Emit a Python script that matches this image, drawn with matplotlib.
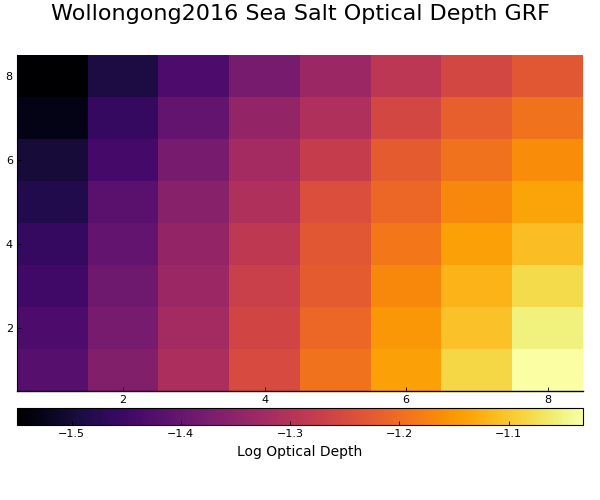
import matplotlib

matplotlib.use("Agg")
import matplotlib.pyplot as plt
import numpy as np

# Ejes del grid (centro de cada celda)
x_vals = [1, 2, 3, 4, 5, 6, 7, 8]
y_vals = [1, 2, 3, 4, 5, 6, 7, 8]

# Log optical depth, una lista por fila (y=1 abajo ... y=8 arriba)
fila_y1 = [-1.420, -1.364, -1.312, -1.250, -1.193, -1.141, -1.084, -1.032]
fila_y2 = [-1.431, -1.379, -1.322, -1.260, -1.208, -1.151, -1.105, -1.053]
fila_y3 = [-1.446, -1.389, -1.332, -1.270, -1.224, -1.167, -1.120, -1.079]
fila_y4 = [-1.462, -1.405, -1.343, -1.286, -1.229, -1.187, -1.141, -1.110]
fila_y5 = [-1.483, -1.415, -1.358, -1.307, -1.244, -1.208, -1.167, -1.136]
fila_y6 = [-1.498, -1.441, -1.379, -1.322, -1.275, -1.224, -1.193, -1.162]
fila_y7 = [-1.529, -1.462, -1.405, -1.343, -1.307, -1.255, -1.218, -1.193]
fila_y8 = [-1.550, -1.490, -1.431, -1.379, -1.332, -1.291, -1.255, -1.229]

x_ticks = [2, 4, 6, 8]
y_ticks = [2, 4, 6, 8]
cbar_ticks = [-1.5, -1.4, -1.3, -1.2, -1.1]

matriz = np.array([fila_y1, fila_y2, fila_y3, fila_y4,
                   fila_y5, fila_y6, fila_y7, fila_y8])

fig = plt.figure(figsize=(6, 5), dpi=100)
ax = fig.add_axes([17 / 600, 1 - 391 / 500, 566 / 600, 336 / 500])
cax = fig.add_axes([17 / 600, 1 - 425 / 500, 566 / 600, 17 / 500])

dx = (x_vals[1] - x_vals[0]) / 2
dy = (y_vals[1] - y_vals[0]) / 2
img = ax.imshow(
    matriz, cmap="inferno", origin="lower", aspect="auto",
    extent=(x_vals[0] - dx, x_vals[-1] + dx, y_vals[0] - dy, y_vals[-1] + dy),
    vmin=matriz.min(), vmax=matriz.max(), interpolation="nearest",
)
ax.set_xticks(x_ticks)
ax.set_yticks(y_ticks)
ax.tick_params(direction="in", length=3, width=0.6, labelsize=8, pad=3)
ax.spines["top"].set_visible(False)
ax.spines["right"].set_visible(False)
ax.spines["left"].set_linewidth(0.8)
ax.spines["bottom"].set_linewidth(1.0)

cb = fig.colorbar(img, cax=cax, orientation="horizontal")
cb.set_ticks(cbar_ticks)
cb.ax.tick_params(direction="in", length=3, width=0.6, labelsize=8, pad=3)
cb.outline.set_linewidth(0.8)
cb.set_label("Log Optical Depth", fontsize=10)

fig.suptitle("Wollongong2016 Sea Salt Optical Depth GRF", fontsize=16, y=0.993)

fig.savefig("out.png", dpi=100)
plt.close(fig)
